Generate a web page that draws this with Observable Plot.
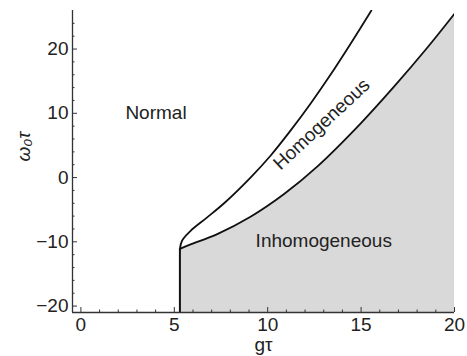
<!DOCTYPE html>
<html><head><meta charset="utf-8">
<script src="https://cdn.jsdelivr.net/npm/d3@7"></script>
<script src="https://cdn.jsdelivr.net/npm/@observablehq/plot@0.6"></script>
<style>body{margin:0;background:#fff}</style>
</head><body><div id="chart"></div>
<script>
// Boundary between Normal and Homogeneous phases
const upperX = [5.3, 5.42, 5.87, 6.76, 7.74, 9.08, 10.15, 11.22, 12.29, 13.36, 14.43, 15.55];
const upperY = [-11.1, -9.8, -8.3, -6.2, -3.8, 0, 3.4, 7.3, 11.5, 16.0, 20.8, 26.0];
// Boundary between Homogeneous and Inhomogeneous phases
const lowerX = [5.3, 5.87, 7.3, 9.08, 10.86, 12.65, 14.97, 16.75, 18.54, 20];
const lowerY = [-11.1, -10.4, -8.8, -6.1, -2.6, 1.7, 8.4, 14.1, 20.2, 25.5];
// Vertical boundary
const vertX = [5.3];
const vertTop = [-11.1];

const xDomain = [-0.45, 20];
const yDomain = [-21, 26];
const xMajor = [0, 5, 10, 15, 20];
const xMinor = [1, 2, 3, 4, 6, 7, 8, 9, 11, 12, 13, 14, 16, 17, 18, 19];
const yMajor = [-20, -10, 0, 10, 20];
const yMinor = [-18, -16, -14, -12, -8, -6, -4, -2, 2, 4, 6, 8, 12, 14, 16, 18, 22, 24];

const regionNames = ["Normal", "Homogeneous", "Inhomogeneous"];
const regionX = [4.02, 12.88, 13.0];
const regionY = [10.1, 8.3, -9.8];
const regionRotate = [0, -43, 0];

const upper = upperX.map((x, i) => ({x, y: upperY[i]}));
const lower = lowerX.map((x, i) => ({x, y: lowerY[i]}));
const labels = regionNames.map((t, i) => ({t, x: regionX[i], y: regionY[i], r: regionRotate[i]}));

const ink = "#222";
const chart = Plot.plot({
  width: 467,
  height: 356,
  marginLeft: 72,
  marginRight: 13,
  marginTop: 10,
  marginBottom: 44,
  style: {fontFamily: "'Liberation Sans', Arial, Helvetica, sans-serif", fontSize: "19px", color: ink, background: "#fff"},
  x: {domain: xDomain},
  y: {domain: yDomain},
  marks: [
    Plot.areaY(lower, {x: "x", y1: yDomain[0], y2: "y", fill: "#d9d9d9", curve: "catmull-rom"}),
    Plot.ruleX(vertX, {x: d => d, y1: yDomain[0], y2: (d, i) => vertTop[i], stroke: "#111", strokeWidth: 2}),
    Plot.line(upper, {x: "x", y: "y", stroke: "#111", strokeWidth: 1.8, curve: "catmull-rom", clip: true}),
    Plot.line(lower, {x: "x", y: "y", stroke: "#111", strokeWidth: 1.8, curve: "catmull-rom", clip: true}),
    Plot.ruleX([xDomain[0]], {stroke: "#333", strokeWidth: 1.3}),
    Plot.ruleY([yDomain[0]], {stroke: "#333", strokeWidth: 1.3}),
    Plot.axisX(xMajor, {tickSize: -5, tickPadding: 10, label: null, stroke: "#333", fill: ink}),
    Plot.axisX(xMinor, {tickSize: -2.5, tickFormat: () => "", label: null, stroke: "#333"}),
    Plot.axisY(yMajor, {tickSize: -5, tickPadding: 9, label: null, stroke: "#333", fill: ink}),
    Plot.axisY(yMinor, {tickSize: -2.5, tickFormat: () => "", label: null, stroke: "#333"}),
    Plot.text(labels, {x: "x", y: "y", text: "t", rotate: "r", fill: ink, fontSize: 19}),
    Plot.text(["ω₀τ"], {frameAnchor: "left", dx: -49, rotate: -90, fill: ink, fontSize: 19, fontStyle: "italic"}),
    Plot.text(["gτ"], {frameAnchor: "bottom", dy: 38, fill: ink, fontSize: 19})
  ]
});
document.getElementById("chart").append(chart);
</script>
</body></html>
